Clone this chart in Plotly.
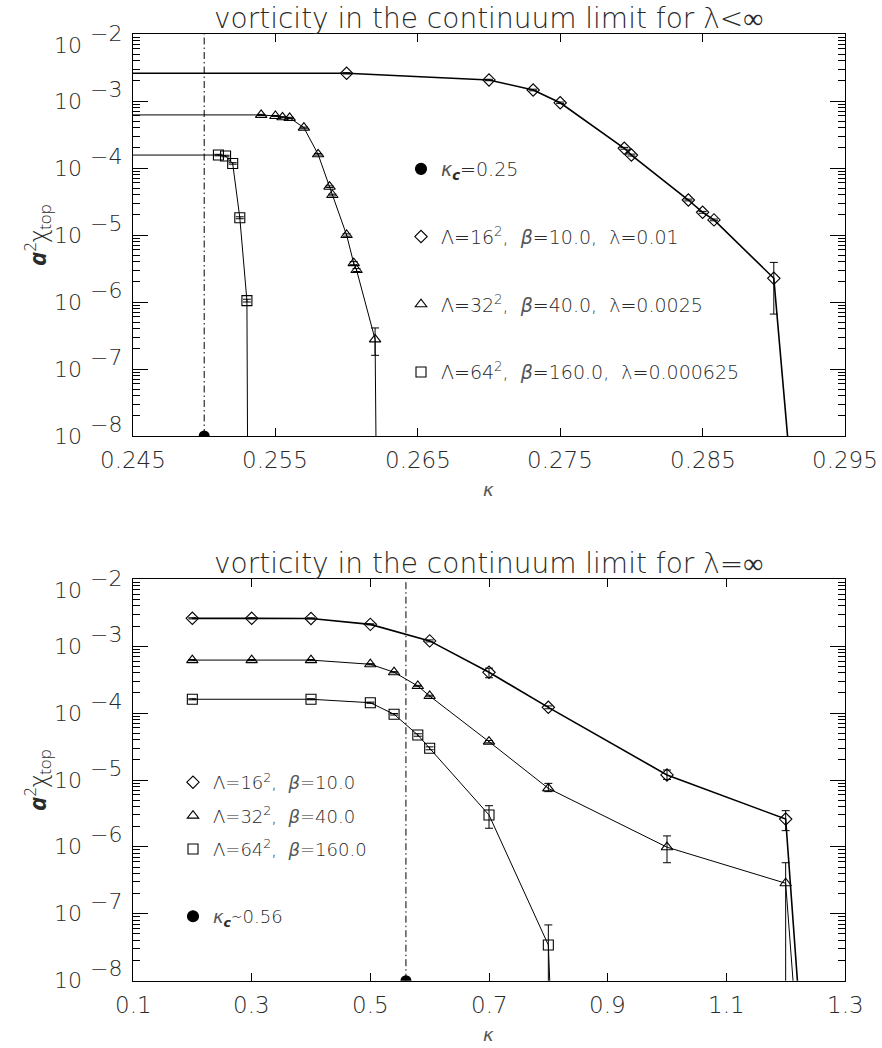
import plotly.graph_objects as go

W, H = 882, 1048
FONT = "DejaVu Sans"
INK = "#2a2a2a"
TICK = "black"
FLOOR = 1e-30          # zero measurements are drawn at a floor far below the axis

# ---------------- upper panel: lambda < infinity ----------------
kap16_fin = [0.200, 0.2600, 0.2700, 0.2731, 0.2750, 0.2795, 0.2800, 0.2840, 0.2850, 0.2858, 0.2900, 0.3000]
chi16_fin = [2.59e-3, 2.59e-3, 2.06e-3, 1.46e-3, 9.4e-4, 1.97e-4, 1.56e-4, 3.33e-5, 2.18e-5, 1.68e-5, 2.26e-6, 0.0]
e16_fin_up = [0, 6e-5, 5e-5, 4e-5, 2.5e-5, 6e-6, 5e-6, 1.0e-6, 7e-7, 5e-7, 1.64e-6, 0]
e16_fin_dn = [0, 6e-5, 5e-5, 4e-5, 2.5e-5, 6e-6, 5e-6, 1.0e-6, 7e-7, 5e-7, 1.60e-6, 0]

kap32_fin = [0.200, 0.2540, 0.2550, 0.2555, 0.2560, 0.2570, 0.2580, 0.2588, 0.2590, 0.2600, 0.2605, 0.2607, 0.2620, 0.2630]
chi32_fin = [6.2e-4, 6.2e-4, 5.97e-4, 5.71e-4, 5.6e-4, 4.0e-4, 1.6e-4, 5.26e-5, 3.95e-5, 1.0e-5, 3.8e-6, 3.0e-6, 2.77e-7, 0.0]
e32_fin_up = [0, 1.2e-5, 1.2e-5, 1.1e-5, 1.1e-5, 8e-6, 4e-6, 1.5e-6, 1.2e-6, 4e-7, 2e-7, 1.5e-7, 1.33e-7, 0]
e32_fin_dn = [0, 1.2e-5, 1.2e-5, 1.1e-5, 1.1e-5, 8e-6, 4e-6, 1.5e-6, 1.2e-6, 4e-7, 2e-7, 1.5e-7, 1.17e-7, 0]

kap64_fin = [0.200, 0.2510, 0.2515, 0.2520, 0.2525, 0.2530, 0.2535]
chi64_fin = [1.56e-4, 1.56e-4, 1.51e-4, 1.17e-4, 1.81e-5, 1.05e-6, 0.0]
e64_fin_up = [0, 4e-6, 4e-6, 3e-6, 6e-7, 5e-8, 0]
e64_fin_dn = [0, 4e-6, 4e-6, 3e-6, 6e-7, 5e-8, 0]

kappa_c_fin = 0.25

# ---------------- lower panel: lambda = infinity ----------------
kap16_inf = [0.2, 0.3, 0.4, 0.5, 0.6, 0.7, 0.8, 1.0, 1.2, 1.4]
chi16_inf = [2.61e-3, 2.61e-3, 2.60e-3, 2.12e-3, 1.20e-3, 4.07e-4, 1.22e-4, 1.19e-5, 2.61e-6, 0.0]
e16_inf_up = [5e-5, 5e-5, 5e-5, 4e-5, 4e-5, 6.3e-5, 6e-6, 2.2e-6, 8.7e-7, 0]
e16_inf_dn = [5e-5, 5e-5, 5e-5, 4e-5, 4e-5, 6.9e-5, 6e-6, 1.7e-6, 8.6e-7, 0]

kap32_inf = [0.2, 0.3, 0.4, 0.5, 0.54, 0.58, 0.6, 0.7, 0.8, 1.0, 1.2, 1.4]
chi32_inf = [6.2e-4, 6.2e-4, 6.2e-4, 5.37e-4, 4.08e-4, 2.54e-4, 1.8e-4, 3.74e-5, 7.5e-6, 9.9e-7, 2.86e-7, 0.0]
e32_inf_up = [1.2e-5, 1.2e-5, 1.2e-5, 1.1e-5, 8e-6, 6e-6, 5e-6, 1.5e-6, 1.4e-6, 4.7e-7, 2.94e-7, 0]
e32_inf_dn = [1.2e-5, 1.2e-5, 1.2e-5, 1.1e-5, 8e-6, 6e-6, 5e-6, 1.5e-6, 0.8e-6, 4.1e-7, 2.86e-7, 0]

kap64_inf = [0.2, 0.4, 0.5, 0.54, 0.58, 0.6, 0.7, 0.8, 0.9]
chi64_inf = [1.61e-4, 1.61e-4, 1.43e-4, 9.6e-5, 4.71e-5, 2.98e-5, 3.0e-6, 3.42e-8, 0.0]
e64_inf_up = [3e-6, 3e-6, 3e-6, 2.5e-6, 2e-6, 1.5e-6, 1.13e-6, 3.4e-8, 0]
e64_inf_dn = [3e-6, 3e-6, 3e-6, 2.5e-6, 2e-6, 1.5e-6, 1.10e-6, 3.42e-8, 0]

kappa_c_inf = 0.56

# ---------------- axes ----------------
xticks_fin = [0.245, 0.255, 0.265, 0.275, 0.285, 0.295]
xlabels_fin = ["0.245", "0.255", "0.265", "0.275", "0.285", "0.295"]
xticks_inf = [0.1, 0.3, 0.5, 0.7, 0.9, 1.1, 1.3]
xlabels_inf = ["0.1", "0.3", "0.5", "0.7", "0.9", "1.1", "1.3"]
decades = [-8, -7, -6, -5, -4, -3, -2]

TOP_BOX = (133, 845, 34, 436)       # left, right, top, bottom in pixels
BOT_BOX = (133, 845, 579.3, 980.7)

YMIN, YMAX = 1e-8, 1e-2


def minor_log_ticks():
    vals = []
    for d in decades[:-1]:
        for m in range(2, 10):
            vals.append(m * 10.0 ** d)
    return vals


def x_axis(box, rng, ticks, anchor):
    return dict(domain=[box[0] / W, box[1] / W], range=rng, tickmode="array",
                tickvals=ticks[1:-1],
                ticks="inside", ticklen=8, tickwidth=1, tickcolor=TICK,
                showticklabels=False, showline=True, linecolor="black", linewidth=1,
                mirror="allticks", showgrid=False, zeroline=False, anchor=anchor)


def y_axis(box, anchor):
    return dict(type="log", domain=[1 - box[3] / H, 1 - box[2] / H],
                range=[decades[0], decades[-1]], tickmode="array",
                tickvals=[10.0 ** d for d in decades],
                ticks="inside", ticklen=15, tickwidth=1, tickcolor=TICK,
                minor=dict(tickmode="array", tickvals=minor_log_ticks(), ticks="inside",
                           ticklen=7, tickwidth=1, tickcolor=TICK, showgrid=False),
                showticklabels=False, showline=True, linecolor="black", linewidth=1,
                mirror="allticks", showgrid=False, zeroline=False, anchor=anchor)


fig = go.Figure()

SYMBOLS = {"16": ("diamond-open", 9.5, 1.6), "32": ("triangle-up-open", 10, 1.0),
           "64": ("square-open", 10, 1.0)}


def add_series(kap, chi, up, dn, key, xa, ya):
    sym, size, lw = SYMBOLS[key]
    yplot = [c if c > 0 else FLOOR for c in chi]
    fig.add_trace(go.Scatter(
        x=kap, y=yplot, mode="lines+markers", xaxis=xa, yaxis=ya,
        line=dict(color="black", width=lw),
        marker=dict(symbol=sym, size=size, color="black", line=dict(width=1.1, color="black")),
        error_y=dict(type="data", symmetric=False, array=up, arrayminus=dn,
                     width=4, thickness=1, color="black"),
        cliponaxis=True, showlegend=False, hoverinfo="skip"))


add_series(kap16_fin, chi16_fin, e16_fin_up, e16_fin_dn, "16", "x", "y")
add_series(kap32_fin, chi32_fin, e32_fin_up, e32_fin_dn, "32", "x", "y")
add_series(kap64_fin, chi64_fin, e64_fin_up, e64_fin_dn, "64", "x", "y")
add_series(kap16_inf, chi16_inf, e16_inf_up, e16_inf_dn, "16", "x2", "y2")
add_series(kap32_inf, chi32_inf, e32_inf_up, e32_inf_dn, "32", "x2", "y2")
add_series(kap64_inf, chi64_inf, e64_inf_up, e64_inf_dn, "64", "x2", "y2")

# critical hopping parameter, sitting on the lower axis
for kc, xa, ya in [(kappa_c_fin, "x", "y"), (kappa_c_inf, "x2", "y2")]:
    fig.add_trace(go.Scatter(x=[kc], y=[YMIN], mode="markers", xaxis=xa, yaxis=ya,
                             marker=dict(symbol="circle", size=11, color="black"),
                             cliponaxis=True, showlegend=False, hoverinfo="skip"))
    fig.add_shape(type="line", xref=xa, yref=ya + " domain", x0=kc, x1=kc, y0=0, y1=1,
                  line=dict(color="black", width=1, dash="7px,3px,1.5px,3px"))

IT = '<span style="color:#555"><i>%s</i></span>'
KC = IT % "κ" + "<sub><b><i>c</i></b></sub>"

# legend entries
LEG_FIN = [
    ("circle", 11, KC + "=0.25"),
    ("diamond-open", 9.5, "Λ=16<sup>2</sup>,  " + IT % "β" + "=10.0,  λ=0.01"),
    ("triangle-up-open", 10, "Λ=32<sup>2</sup>,  " + IT % "β" + "=40.0,  λ=0.0025"),
    ("square-open", 10, "Λ=64<sup>2</sup>,  " + IT % "β" + "=160.0,  λ=0.000625"),
]
for i, (sym, size, name) in enumerate(LEG_FIN):
    fig.add_trace(go.Scatter(x=[None], y=[None], mode="markers", xaxis="x", yaxis="y",
                             marker=dict(symbol=sym, size=size, color="black", line=dict(width=1.1, color="black")),
                             name=name, legend="legend", legendgroup="f%d" % i, legendrank=i + 1))

LEG_INF = [
    ("diamond-open", 9.5, "Λ=16<sup>2</sup>,  " + IT % "β" + "=10.0", "legend2"),
    ("triangle-up-open", 10, "Λ=32<sup>2</sup>,  " + IT % "β" + "=40.0", "legend2"),
    ("square-open", 10, "Λ=64<sup>2</sup>,  " + IT % "β" + "=160.0", "legend2"),
    ("circle", 11, KC + "∼0.56", "legend3"),
]
for i, (sym, size, name, leg) in enumerate(LEG_INF):
    fig.add_trace(go.Scatter(x=[None], y=[None], mode="markers", xaxis="x2", yaxis="y2",
                             marker=dict(symbol=sym, size=size, color="black", line=dict(width=1.1, color="black")),
                             name=name, legend=leg, legendgroup="i%d" % i, legendrank=i + 1))

ann = []
xtick_font = dict(family=FONT, size=23, color=INK, weight=200)
ytick_font = dict(family=FONT, size=22, color=INK, weight=200)


def axis_labels(box, xa, ya, xticks, xlabels):
    for v, t in zip(xticks, xlabels):
        ann.append(dict(text=t, x=v, xref=xa, y=1 - box[3] / H, yref="paper", yshift=-24,
                        xanchor="center", yanchor="middle", showarrow=False, font=xtick_font))
    for d in decades:
        top = d == decades[-1]
        shift = -11 if top else 0
        ann.append(dict(text="10", x=84 / W, xref="paper", y=d, yref=ya, yshift=shift,
                        xanchor="right", yanchor="middle", showarrow=False, font=ytick_font))
        ann.append(dict(text="−%d" % (-d), x=88 / W, xref="paper", y=d, yref=ya, yshift=shift + 12,
                        xanchor="left", yanchor="middle", showarrow=False, font=ytick_font))


axis_labels(TOP_BOX, "x", "y", xticks_fin, xlabels_fin)
axis_labels(BOT_BOX, "x2", "y2", xticks_inf, xlabels_inf)

title_font = dict(family=FONT, size=28, color=INK, weight=200)
for box, txt in [(TOP_BOX, "vorticity in the continuum limit for λ<∞"),
                 (BOT_BOX, "vorticity in the continuum limit for λ=∞")]:
    ann.append(dict(text=txt, x=(box[0] + box[1]) / 2 / W, xref="paper",
                    y=1 - box[2] / H, yref="paper", yshift=16, xanchor="center",
                    yanchor="middle", showarrow=False, font=title_font))
    ann.append(dict(text='<span style="color:#555"><i>κ</i></span>', x=(box[0] + box[1]) / 2 / W,
                    xref="paper", y=1 - box[3] / H, yref="paper", yshift=-54,
                    xanchor="center", yanchor="middle", showarrow=False,
                    font=dict(family=FONT, size=18, color=INK, weight=200)))
    ann.append(dict(text="<b><i>a</i></b><sup>2</sup>χ<sub>top</sub>", x=37 / W, xref="paper",
                    y=1 - (box[2] + box[3]) / 2 / H, yref="paper", textangle=-90,
                    xanchor="center", yanchor="middle", showarrow=False,
                    font=dict(family="Open Sans", size=24, color=INK)))

leg_font = dict(family=FONT, size=18, color=INK, weight=200)
fig.update_layout(
    width=W, height=H, margin=dict(l=0, r=0, t=0, b=0),
    paper_bgcolor="white", plot_bgcolor="white",
    font=dict(family=FONT, color=INK, weight=200),
    xaxis=x_axis(TOP_BOX, [0.245, 0.295], xticks_fin, "y"),
    yaxis=y_axis(TOP_BOX, "x"),
    xaxis2=x_axis(BOT_BOX, [0.1, 1.3], xticks_inf, "y2"),
    yaxis2=y_axis(BOT_BOX, "x2"),
    legend=dict(x=401 / W, y=1 - 150 / H, xanchor="left", yanchor="top",
                bgcolor="rgba(0,0,0,0)", borderwidth=0, tracegroupgap=40,
                font=dict(family=FONT, size=19, color=INK, weight=200)),
    legend2=dict(x=173 / W, y=1 - 764 / H, xanchor="left", yanchor="top",
                 bgcolor="rgba(0,0,0,0)", borderwidth=0, tracegroupgap=7, font=leg_font),
    legend3=dict(x=173 / W, y=1 - 898 / H, xanchor="left", yanchor="top",
                 bgcolor="rgba(0,0,0,0)", borderwidth=0, font=leg_font),
    annotations=ann,
)

fig.write_html("out.html")
